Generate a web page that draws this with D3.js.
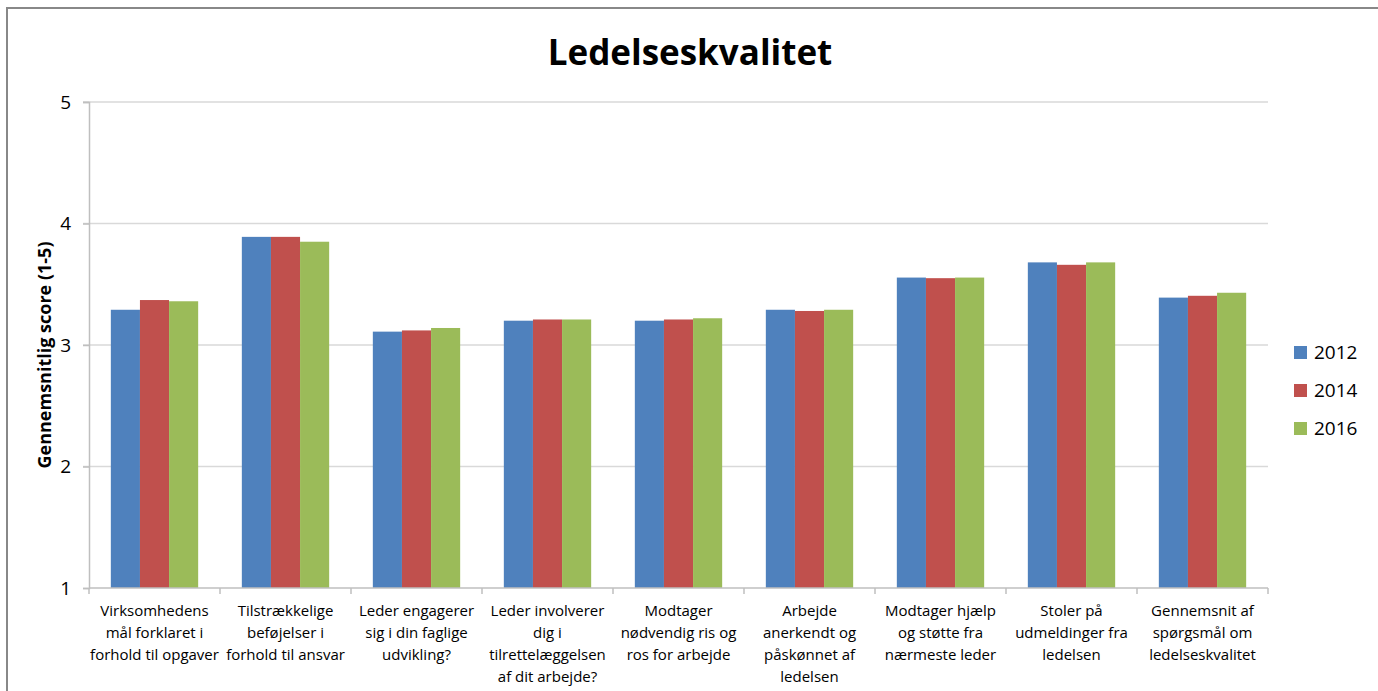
<!DOCTYPE html>
<html>
<head>
<meta charset="utf-8">
<script src="https://cdn.jsdelivr.net/npm/d3@7"></script>
<style>
  body { margin: 0; background: #fff; }
  svg { display: block; font-family: "Open Sans", sans-serif; }
</style>
</head>
<body>
<svg id="chart" width="1378" height="691"></svg>
<script>
const categories = [
  ["Virksomhedens", "mål forklaret i", "forhold til opgaver"],
  ["Tilstrækkelige", "beføjelser i", "forhold til ansvar"],
  ["Leder engagerer", "sig i din faglige", "udvikling?"],
  ["Leder involverer", "dig i", "tilrettelæggelsen", "af dit arbejde?"],
  ["Modtager", "nødvendig ris og", "ros for arbejde"],
  ["Arbejde", "anerkendt og", "påskønnet af", "ledelsen"],
  ["Modtager hjælp", "og støtte fra", "nærmeste leder"],
  ["Stoler på", "udmeldinger fra", "ledelsen"],
  ["Gennemsnit af", "spørgsmål om", "ledelseskvalitet"]
];
const years = ["2012", "2014", "2016"];
const values2012 = [3.29, 3.89, 3.11, 3.20, 3.20, 3.29, 3.555, 3.68, 3.39];
const values2014 = [3.37, 3.89, 3.12, 3.21, 3.21, 3.28, 3.55, 3.66, 3.405];
const values2016 = [3.36, 3.85, 3.14, 3.21, 3.22, 3.29, 3.555, 3.68, 3.43];
const yTicks = [1, 2, 3, 4, 5];
const colors = ["#4f81bd", "#c0504d", "#9bbb59"];

const series = [values2012, values2014, values2016];

const svg = d3.select("#chart");
const margin = {top: 102, right: 110, bottom: 103, left: 89};
const width = 1378 - margin.left - margin.right;
const height = 691 - margin.top - margin.bottom;

// outer frame (top and left edges visible)
svg.append("path")
   .attr("d", "M7,691 L7,8 L1378,8")
   .attr("fill", "none")
   .attr("stroke", "#888")
   .attr("stroke-width", 2);

const g = svg.append("g").attr("transform", "translate(" + margin.left + "," + margin.top + ")");

const x0 = d3.scaleBand()
             .domain(d3.range(categories.length))
             .range([0, width])
             .paddingInner(0)
             .paddingOuter(0);

const barW = x0.bandwidth() / 4.5;
const x1 = d3.scaleBand()
             .domain(years)
             .range([0, barW * 3]);

const y = d3.scaleLinear()
            .domain([1, 5])
            .range([height, 0]);

// gridlines
g.append("g")
 .selectAll("line")
 .data(yTicks.slice(1))
 .enter().append("line")
 .attr("x1", -6)
 .attr("x2", width)
 .attr("y1", d => y(d))
 .attr("y2", d => y(d))
 .attr("stroke", "#d9d9d9")
 .attr("stroke-width", 1.5);

// bars
const groups = g.selectAll(".cat")
  .data(categories.map((c, i) => ({i, vals: series.map(s => s[i])})))
  .enter().append("g")
  .attr("class", "cat")
  .attr("transform", d => "translate(" + (x0(d.i) + (x0.bandwidth() - barW * 3) / 2) + ",0)");

groups.selectAll("rect")
  .data(d => d.vals.map((v, k) => ({v, k})))
  .enter().append("rect")
  .attr("x", d => x1(years[d.k]))
  .attr("width", x1.bandwidth())
  .attr("y", d => y(d.v))
  .attr("height", d => y(1) - y(d.v))
  .attr("fill", d => colors[d.k]);

// y axis
const yAxis = g.append("g")
  .call(d3.axisLeft(y).tickValues(yTicks).tickSize(6).tickPadding(12).tickFormat(d3.format("d")));
yAxis.select(".domain").attr("stroke", "#bfbfbf").attr("stroke-width", 1.5);
yAxis.selectAll(".tick line").attr("stroke", "#bfbfbf").attr("stroke-width", 1.5);
yAxis.selectAll(".tick text")
  .attr("font-size", 19)
  .attr("font-family", "Open Sans, sans-serif")
  .attr("fill", "#000");

// x axis line with boundary ticks
const xAxisG = g.append("g").attr("transform", "translate(0," + height + ")");
xAxisG.append("line")
  .attr("x1", 0).attr("x2", width)
  .attr("stroke", "#bfbfbf").attr("stroke-width", 1.5);
xAxisG.selectAll(".bt")
  .data(d3.range(categories.length + 1))
  .enter().append("line")
  .attr("x1", d => d === categories.length ? width : x0(d))
  .attr("x2", d => d === categories.length ? width : x0(d))
  .attr("y1", 0).attr("y2", 6)
  .attr("stroke", "#bfbfbf").attr("stroke-width", 1.5);

// category labels
const labels = xAxisG.selectAll(".lbl")
  .data(categories)
  .enter().append("text")
  .attr("text-anchor", "middle")
  .attr("font-size", 15)
  .attr("fill", "#000")
  .attr("transform", (d, i) => "translate(" + (x0(i) + x0.bandwidth() / 2) + ",28)");
labels.selectAll("tspan")
  .data(d => d)
  .enter().append("tspan")
  .attr("x", 0)
  .attr("y", (d, i) => i * 22)
  .text(d => d);

// title
svg.append("text")
  .attr("x", 690)
  .attr("y", 65)
  .attr("text-anchor", "middle")
  .attr("font-size", 35)
  .attr("font-weight", "bold")
  .attr("fill", "#000")
  .text("Ledelseskvalitet");

// y axis title
svg.append("text")
  .attr("transform", "translate(51," + (margin.top + height / 2 + 10) + ") rotate(-90)")
  .attr("text-anchor", "middle")
  .attr("font-size", 18)
  .attr("font-weight", "bold")
  .attr("fill", "#000")
  .text("Gennemsnitlig score (1-5)");

// legend
const legend = svg.selectAll(".legend")
  .data(years)
  .enter().append("g")
  .attr("class", "legend")
  .attr("transform", (d, i) => "translate(1294," + (352 + i * 38) + ")");
legend.append("rect")
  .attr("x", 0).attr("y", -6)
  .attr("width", 13).attr("height", 13)
  .attr("fill", (d, i) => colors[i]);
legend.append("text")
  .attr("x", 20)
  .attr("y", 0)
  .attr("dy", "0.35em")
  .attr("font-size", 19)
  .attr("fill", "#000")
  .text(d => d);
</script>
</body>
</html>
